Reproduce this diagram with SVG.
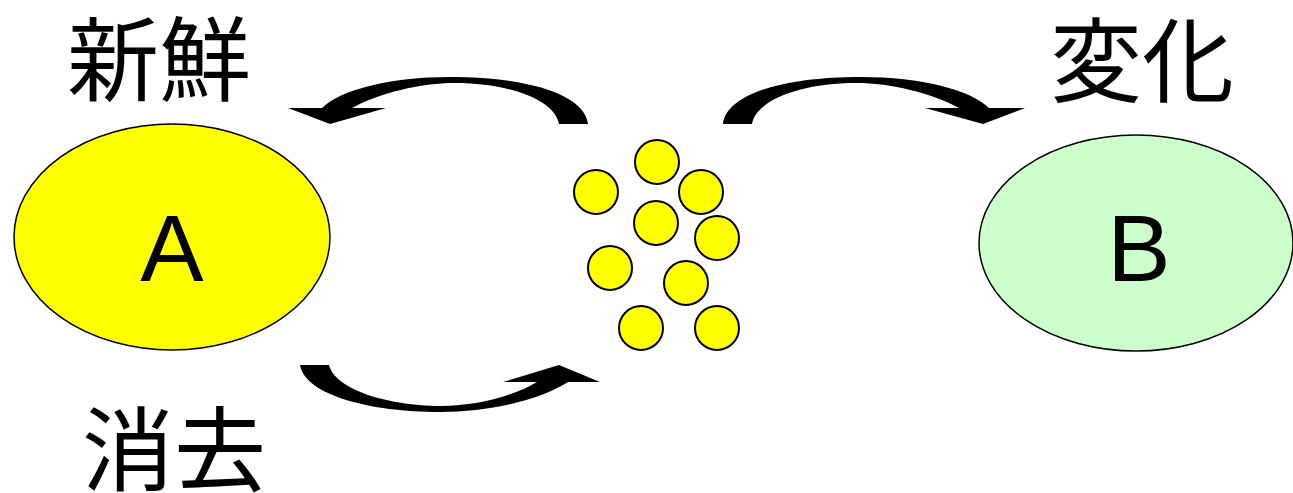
<svg xmlns="http://www.w3.org/2000/svg" width="1293" height="493" viewBox="0 0 1293 493">
<style>
.lbl{font-family:"Noto Sans CJK JP","Noto Sans CJK SC",sans-serif;font-size:92px;fill:#000}
.big{font-family:"Liberation Sans",Arial,sans-serif;font-size:95px;fill:#000;text-anchor:middle}
.dot{fill:#FFFF00;stroke:#000;stroke-width:2}
.arr{fill:#000;stroke:none}
</style>
<rect width="1293" height="493" fill="#fff"/>
<g id="nodeA">
<ellipse cx="172" cy="237" rx="158" ry="113" fill="#FFFF00" stroke="#000" stroke-width="1.5"/>
<text class="big" x="172" y="281">A</text>
</g>
<g id="nodeB">
<ellipse cx="1136" cy="243" rx="157" ry="108" fill="#CCFFCC" stroke="#000" stroke-width="1.5"/>
<text class="big" x="1139" y="281">B</text>
</g>
<g id="particles">
<circle class="dot" cx="657" cy="162" r="22"/>
<circle class="dot" cx="596" cy="192" r="22"/>
<circle class="dot" cx="701" cy="192" r="22"/>
<circle class="dot" cx="656" cy="223" r="22"/>
<circle class="dot" cx="717" cy="238" r="22"/>
<circle class="dot" cx="610" cy="268" r="22"/>
<circle class="dot" cx="686" cy="283" r="22"/>
<circle class="dot" cx="641" cy="328" r="22"/>
<circle class="dot" cx="717" cy="328" r="22"/>
</g>
<g id="label-fresh"><text class="lbl" x="67" y="94">新鮮</text></g>
<g id="label-change"><text class="lbl" x="1050" y="95">変化</text></g>
<g id="label-remove"><text class="lbl" x="82" y="484">消去</text></g>
<g id="connectors">
<path class="arr" d="M588 124 C585 95 530 77 450 77 C390 77 340 90 322 108 L288 108 L330 124 L386 108 L352 108 C380 93 420 83 455 83 C510 83 555 100 559 124 Z"/>
<path class="arr" transform="translate(1311 0) scale(-1 1)" d="M588 124 C585 95 530 77 450 77 C390 77 340 90 322 108 L286 108 L328 124 L386 108 L352 108 C380 93 420 83 455 83 C510 83 555 100 559 124 Z"/>
<path class="arr" d="M300 365 L329 365 C335 390 390 406 440 406 C480 406 515 395 537 382 L503 382 L559 365 L600 382 L568 382 C540 400 490 412 440 412 C370 412 305 395 300 365 Z"/>
</g>
</svg>
